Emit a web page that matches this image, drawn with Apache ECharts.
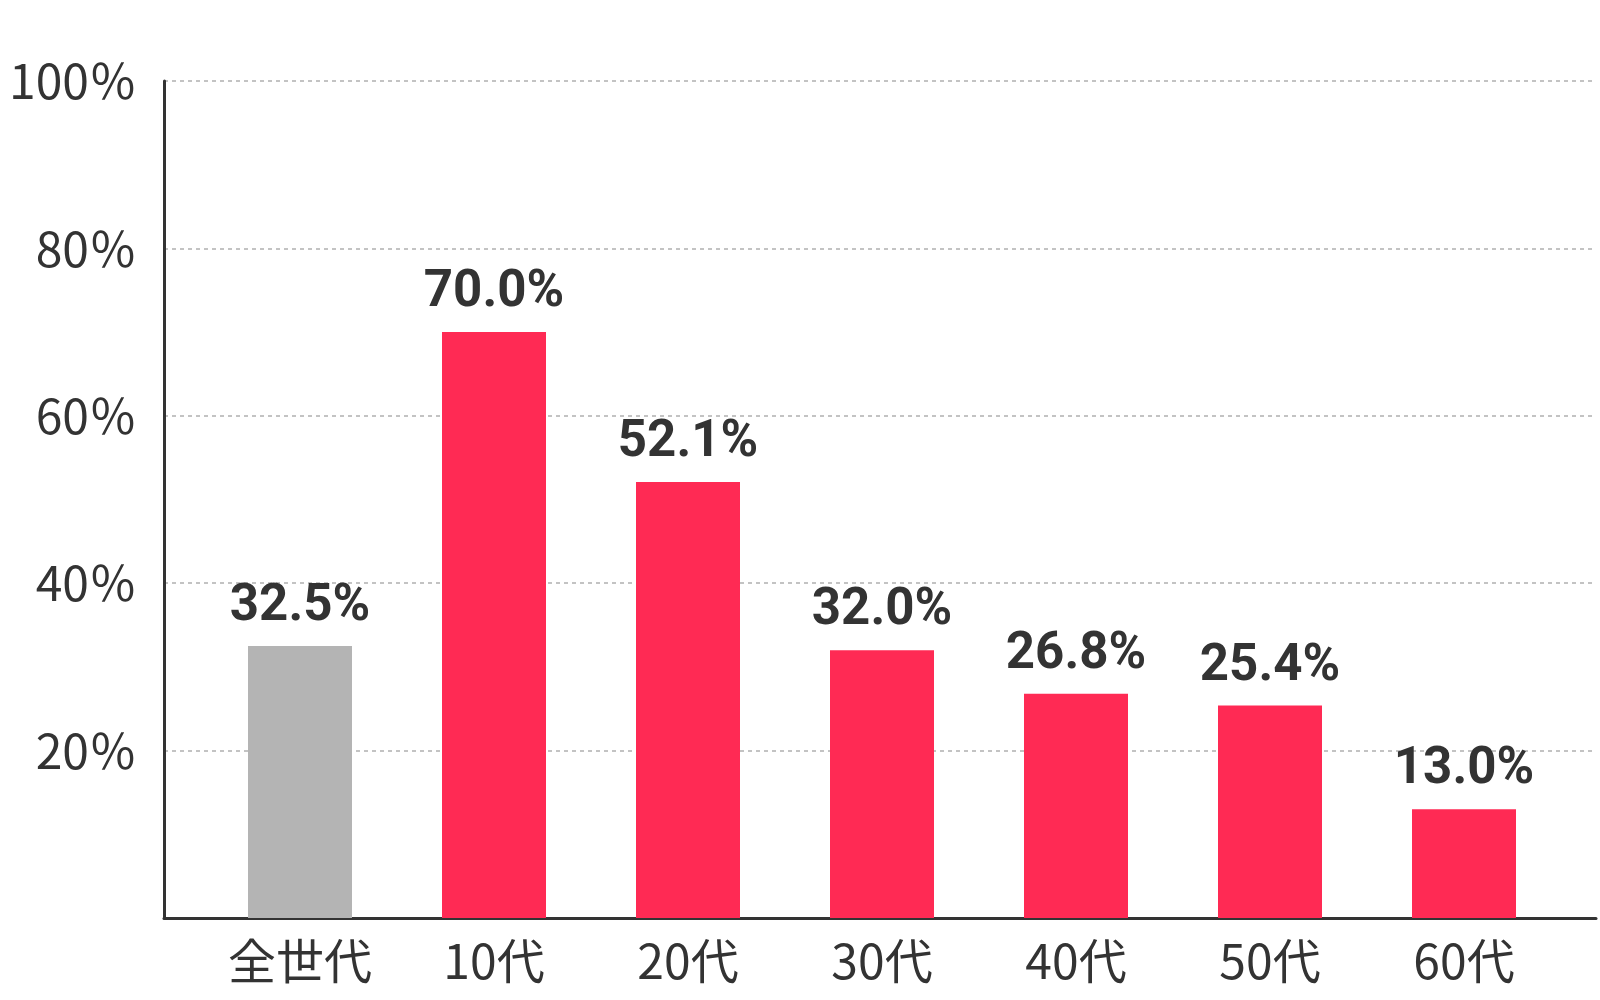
<!DOCTYPE html>
<html><head><meta charset="utf-8">
<script src="https://cdn.jsdelivr.net/npm/echarts@6/dist/echarts.min.js"></script>
<style>html,body{margin:0;padding:0;background:#fff}#c{width:1600px;height:1000px}</style>
</head><body><div id="c"></div>
<script>
const categories = ['全世代', '10代', '20代', '30代', '40代', '50代', '60代'];
const values = [32.5, 70.0, 52.1, 32.0, 26.8, 25.4, 13.0];
const yTicks = [0, 20, 40, 60, 80, 100];

const FONT = '"Noto Sans CJK JP", "Noto Sans", sans-serif';
const chart = echarts.init(document.getElementById('c'), null, {renderer: 'canvas'});
chart.setOption({
  backgroundColor: '#fff',
  animation: false,
  grid: [
    {left: 164, right: 4, top: 81, bottom: 82},
    {left: 203, right: 39, top: 81, bottom: 82}
  ],
  xAxis: [
    {gridIndex: 0, type: 'value', min: 0, max: 1, axisLine: {show: true, onZero: false, lineStyle: {color: '#333', width: 3}},
     axisTick: {show: false}, axisLabel: {show: false}, splitLine: {show: false}},
    {gridIndex: 1, type: 'category', data: categories, axisLine: {show: false}, axisTick: {show: false},
     axisLabel: {fontSize: 48, color: '#333', fontFamily: FONT, margin: 19}}
  ],
  yAxis: [
    {gridIndex: 0, type: 'value', min: yTicks[0], max: yTicks[yTicks.length - 1], interval: 20,
     axisLine: {show: true, lineStyle: {color: '#333', width: 3}}, axisTick: {show: false},
     axisLabel: {showMinLabel: false, formatter: '{value}％', fontSize: 48, color: '#333', fontFamily: FONT, margin: 27},
     splitLine: {show: true, lineStyle: {color: '#b0b0b0', width: 1.5, type: [4, 4]}}},
    {gridIndex: 1, type: 'value', min: yTicks[0], max: yTicks[yTicks.length - 1], show: false, splitLine: {show: false}}
  ],
  series: [{
    type: 'bar',
    xAxisIndex: 1, yAxisIndex: 1,
    barWidth: 104,
    data: values,
    itemStyle: {color: p => p.dataIndex === 0 ? '#b4b4b4' : '#ff2a54'},
    label: {show: true, position: 'top', distance: 13, formatter: p => p.value.toFixed(1) + '%',
      fontSize: 51, fontWeight: 'bold', color: '#333', fontFamily: 'Roboto, "Liberation Sans", sans-serif'}
  }]
});
</script></body></html>
